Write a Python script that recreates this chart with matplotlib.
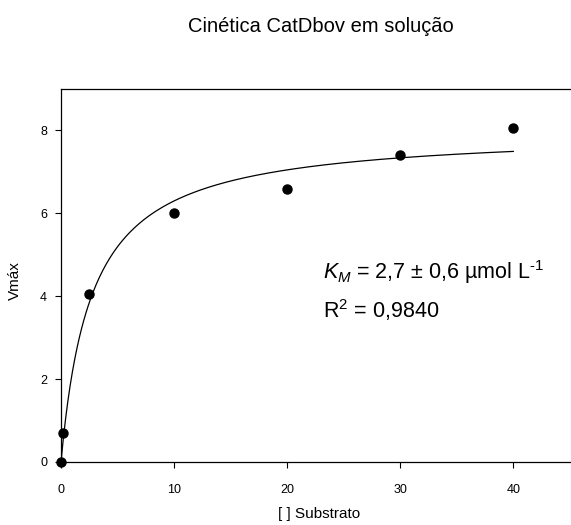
import numpy as np
import matplotlib
matplotlib.use("Agg")
import matplotlib.pyplot as plt

plt.rcParams['font.family'] = ['Liberation Sans', 'DejaVu Sans']
plt.rcParams['mathtext.fontset'] = 'custom'
plt.rcParams['mathtext.rm'] = 'Liberation Sans'
plt.rcParams['mathtext.it'] = 'Liberation Sans:italic'
plt.rcParams['mathtext.bf'] = 'Liberation Sans:bold'

# Data
substrate = [0, 0.2, 2.5, 10, 20, 30, 40]
vmax_obs = [0.0, 0.71, 4.06, 6.0, 6.58, 7.4, 8.05]
# Fitted Michaelis-Menten parameters
Km = 2.7
Vmax_fit = 8.0
fit_x_range = (0, 40)

title = "Cinética CatDbov em solução"
xlabel = "[ ] Substrato"
ylabel = "Vmáx"
xticks = [0, 10, 20, 30, 40]
yticks = [0, 2, 4, 6, 8]

fig = plt.figure(figsize=(5.71, 5.25), dpi=100)
ax = fig.add_axes([61/571, 1 - 462/525, 1 - 61/571, (462 - 89)/525])

xf = np.linspace(fit_x_range[0], fit_x_range[1], 400)
yf = Vmax_fit * xf / (Km + xf)
ax.plot(xf, yf, color='black', lw=0.9)
ax.plot(substrate, vmax_obs, 'o', color='black', ms=6.5, clip_on=False, zorder=5)

ax.set_xlim(0, 45.1)
ax.set_ylim(0, 9.0)
ax.set_xticks(xticks)
ax.set_yticks(yticks)
ax.tick_params(direction='out', length=4, width=0.8, labelsize=9)
ax.tick_params(axis='x', pad=12)
ax.tick_params(axis='y', pad=6)
for s in ['left', 'bottom', 'top']:
    ax.spines[s].set_linewidth(0.9)
ax.spines['right'].set_visible(False)

fig.text(319/571, 1 - 514/525, xlabel, ha='center', va='center', fontsize=11)
fig.text(15/571, 1 - 281/525, ylabel, ha='center', va='center', fontsize=11, rotation=90)
fig.text(321/571, 1 - 27/525, title, ha='center', va='center', fontsize=14.5)

ax.text(23.2, 4.58, r"$K_M$ = 2,7 ± 0,6 µmol L$^{\text{-1}}$", fontsize=15.5, va='center', ha='left')
ax.text(23.2, 3.66, r"R$^2$ = 0,9840", fontsize=15.5, va='center', ha='left')

fig.savefig("out.png", dpi=100)
